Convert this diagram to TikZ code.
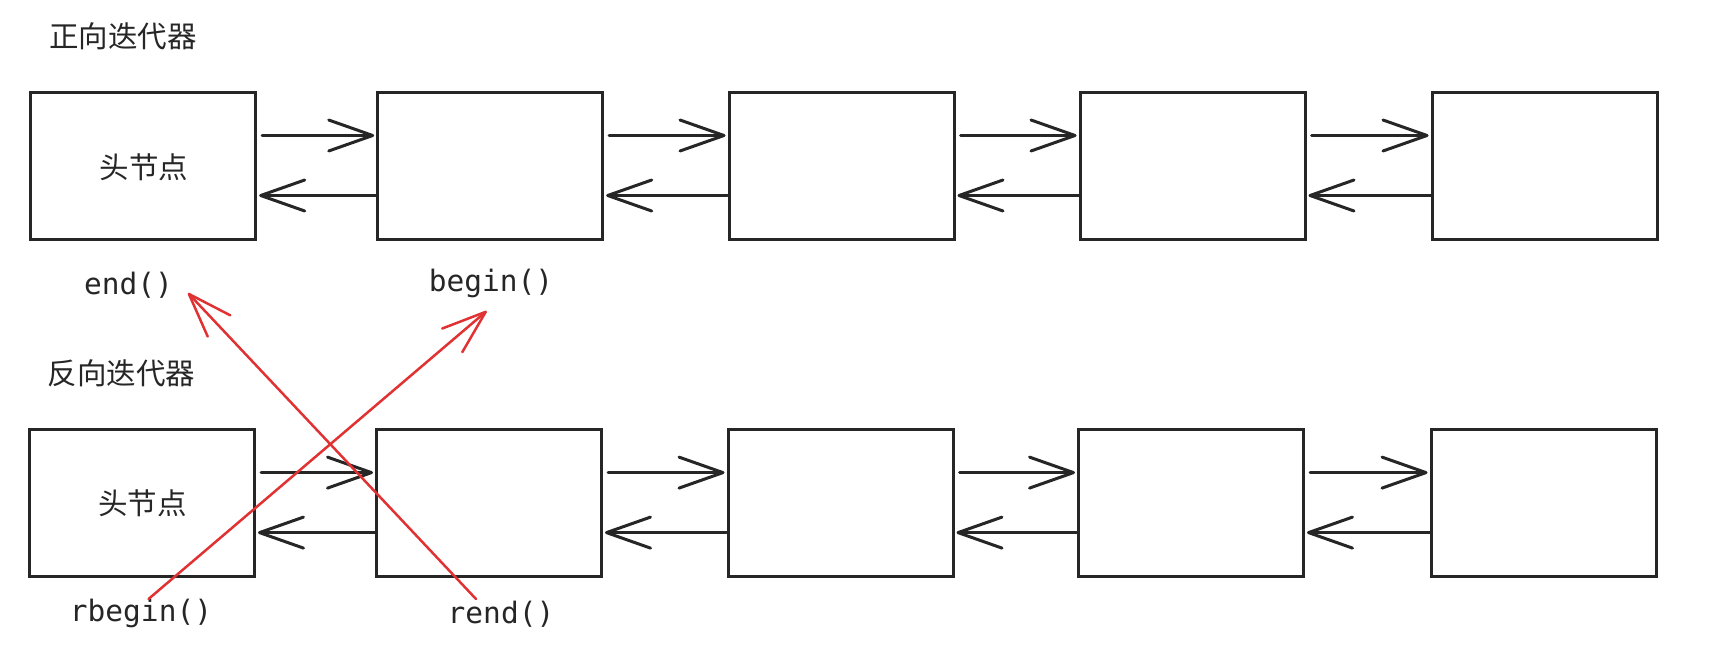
\documentclass[tikz,border=0pt]{standalone}
\usepackage{fontspec}
\setmonofont{DejaVu Sans Mono}
\newfontfamily\cjk{Noto Sans CJK SC}
\usetikzlibrary{arrows.meta}

\definecolor{linkgray}{HTML}{262626}
\definecolor{iterred}{HTML}{E03232}

\tikzset{
  listnode/.style={draw=linkgray, line width=3pt, minimum width=225pt, minimum height=147pt, inner sep=0pt},
  link/.style={draw=linkgray, line width=3pt, line cap=round, -{Straight Barb[length=44pt,width=31pt,round]}},
  iterptr/.style={draw=iterred, line width=2.5pt, line cap=round, -{Straight Barb[length=44pt,width=31pt,round]}},
  cjklabel/.style={font=\cjk\fontsize{29.5}{34}\selectfont, text=linkgray},
  codelabel/.style={font=\ttfamily\fontsize{29.5}{34}\selectfont, text=linkgray},
}

\begin{document}
\begin{tikzpicture}[x=1pt,y=-1pt]
\useasboundingbox (0,0) rectangle (1717,667);

% Forward iterator list
\node[cjklabel] (ftitle) at (123,36) {正向迭代器};
\node[listnode] (f1) at (143.2,165.5) {};
\node[listnode] (f2) at (490.2,165.5) {};
\node[listnode] (f3) at (841.5,165.5) {};
\node[listnode] (f4) at (1192.5,165.5) {};
\node[listnode] (f5) at (1544.5,165.5) {};
\node[cjklabel] (fhead) at (144,167) {头节点};

% Links of the forward list
\draw[link, shorten <=5pt, shorten >=2pt] ([yshift=30pt]f1.east) -- ([yshift=30pt]f2.west);
\draw[link, shorten <=5pt, shorten >=2pt] ([yshift=30pt]f2.east) -- ([yshift=30pt]f3.west);
\draw[link, shorten <=5pt, shorten >=2pt] ([yshift=30pt]f3.east) -- ([yshift=30pt]f4.west);
\draw[link, shorten <=5pt, shorten >=2pt] ([yshift=30pt]f4.east) -- ([yshift=30pt]f5.west);
\draw[link, shorten >=2pt] ([yshift=-30pt]f2.west) -- ([yshift=-30pt]f1.east);
\draw[link, shorten >=2pt] ([yshift=-30pt]f3.west) -- ([yshift=-30pt]f2.east);
\draw[link, shorten >=2pt] ([yshift=-30pt]f4.west) -- ([yshift=-30pt]f3.east);
\draw[link, shorten >=2pt] ([yshift=-30pt]f5.west) -- ([yshift=-30pt]f4.east);

\node[codelabel] (end) at (128.5,285) {end()};
\node[codelabel] (begin) at (491,283) {begin()};

% Reverse iterator list
\node[cjklabel] (rtitle) at (121.5,373) {反向迭代器};
\node[listnode] (r1) at (142,502.6) {};
\node[listnode] (r2) at (489,502.6) {};
\node[listnode] (r3) at (840.5,502.6) {};
\node[listnode] (r4) at (1191,502.6) {};
\node[listnode] (r5) at (1543.5,502.6) {};
\node[cjklabel] (rhead) at (142.4,503.7) {头节点};

% Links of the reverse list
\draw[link, shorten <=5pt, shorten >=2pt] ([yshift=30pt]r1.east) -- ([yshift=30pt]r2.west);
\draw[link, shorten <=5pt, shorten >=2pt] ([yshift=30pt]r2.east) -- ([yshift=30pt]r3.west);
\draw[link, shorten <=5pt, shorten >=2pt] ([yshift=30pt]r3.east) -- ([yshift=30pt]r4.west);
\draw[link, shorten <=5pt, shorten >=2pt] ([yshift=30pt]r4.east) -- ([yshift=30pt]r5.west);
\draw[link, shorten >=2pt] ([yshift=-30pt]r2.west) -- ([yshift=-30pt]r1.east);
\draw[link, shorten >=2pt] ([yshift=-30pt]r3.west) -- ([yshift=-30pt]r2.east);
\draw[link, shorten >=2pt] ([yshift=-30pt]r4.west) -- ([yshift=-30pt]r3.east);
\draw[link, shorten >=2pt] ([yshift=-30pt]r5.west) -- ([yshift=-30pt]r4.east);

\node[codelabel] (rbegin) at (141,613) {rbegin()};
\node[codelabel] (rend) at (501,614) {rend()};

% Red pointers from reverse to forward iterators
\coordinate (rbegin-tail) at (148.5,599);
\coordinate (begin-tip) at (486.7,311);
\coordinate (rend-tail) at (476,599);
\coordinate (end-tip) at (188,293);
\draw[iterptr] (rbegin-tail) -- (begin-tip);
\draw[iterptr] (rend-tail) -- (end-tip);

\end{tikzpicture}
\end{document}
